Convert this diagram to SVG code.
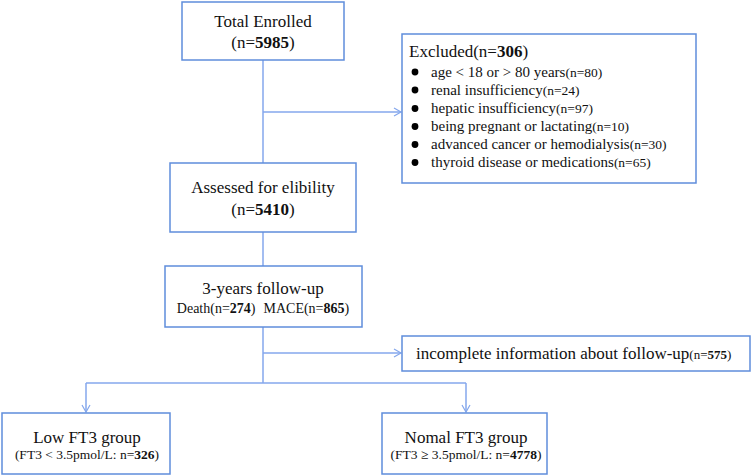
<svg xmlns="http://www.w3.org/2000/svg" width="752" height="476" viewBox="0 0 752 476">
<style>
.box{fill:#fff;stroke:#5f8ddb;stroke-width:1.5}
.ln{fill:none;stroke:#84a7ec;stroke-width:1.5}
text{font-family:"Liberation Serif","Times New Roman",serif;fill:#111}
.t{font-size:17px}
.s{font-size:15px}
.xs{font-size:13.5px}
.m{font-size:14px}
.c{text-anchor:middle}
</style>
<defs>
<marker id="ar" markerWidth="10" markerHeight="10" refX="8" refY="5" orient="auto" markerUnits="userSpaceOnUse">
<path d="M1,1 L8,5 L1,9" fill="none" stroke="#84a7ec" stroke-width="1.2"/>
</marker>
</defs>
<rect width="752" height="476" fill="#fff"/>
<g id="connectors">
<line class="ln" x1="263" y1="60" x2="263" y2="163"/>
<line class="ln" x1="263" y1="112" x2="401" y2="112" marker-end="url(#ar)"/>
<line class="ln" x1="263" y1="232" x2="263" y2="266"/>
<line class="ln" x1="263" y1="327" x2="263" y2="383"/>
<line class="ln" x1="263" y1="353" x2="401" y2="353" marker-end="url(#ar)"/>
<line class="ln" x1="86" y1="383" x2="466" y2="383"/>
<line class="ln" x1="86" y1="383" x2="86" y2="412" marker-end="url(#ar)"/>
<line class="ln" x1="466" y1="383" x2="466" y2="412" marker-end="url(#ar)"/>
</g>
<g id="total">
<rect class="box" x="182" y="2" width="162" height="58"/>
<text class="t c" x="263" y="27">Total Enrolled</text>
<text class="t c" x="263" y="48">(n=<tspan font-weight="bold">5985</tspan>)</text>
</g>
<g id="excluded">
<rect class="box" x="402" y="34" width="294" height="149"/>
<text x="409" y="57" class="t">Excluded(n=<tspan font-weight="bold">306</tspan>)</text>
<g fill="#000">
<circle cx="415" cy="72" r="3.4"/>
<circle cx="415" cy="90" r="3.4"/>
<circle cx="415" cy="108.5" r="3.4"/>
<circle cx="415" cy="126.5" r="3.4"/>
<circle cx="415" cy="144.5" r="3.4"/>
<circle cx="415" cy="162.5" r="3.4"/>
</g>
<text class="s" x="431" y="76.5">age &lt; 18 or &gt; 80 years<tspan class="xs">(n=80)</tspan></text>
<text class="s" x="431" y="94.5">renal insufficiency<tspan class="xs">(n=24)</tspan></text>
<text class="s" x="431" y="113">hepatic insufficiency<tspan class="xs">(n=97)</tspan></text>
<text class="s" x="431" y="131">being pregnant or lactating<tspan class="xs">(n=10)</tspan></text>
<text class="s" x="431" y="149">advanced cancer or hemodialysis<tspan class="xs">(n=30)</tspan></text>
<text class="s" x="431" y="167">thyroid disease or medications<tspan class="xs">(n=65)</tspan></text>
</g>
<g id="assessed">
<rect class="box" x="170" y="163" width="186" height="69"/>
<text class="t c" x="263" y="193">Assessed for elibility</text>
<text class="t c" x="263" y="215">(n=<tspan font-weight="bold">5410</tspan>)</text>
</g>
<g id="followup">
<rect class="box" x="165" y="266" width="197" height="61"/>
<text class="t c" x="263" y="294">3-years follow-up</text>
<text class="m c" x="263" y="313">Death(n=<tspan font-weight="bold">274</tspan>)<tspan dx="8">MACE(n=</tspan><tspan font-weight="bold">865</tspan>)</text>
</g>
<g id="incomplete">
<rect class="box" x="402" y="336" width="348" height="35"/>
<text x="416" y="359" class="t">incomplete information about follow-up<tspan style="font-size:13px">(n=<tspan font-weight="bold">575</tspan>)</tspan></text>
</g>
<g id="low">
<rect class="box" x="2" y="413" width="168" height="61"/>
<text class="t c" x="87" y="443">Low FT3 group</text>
<text class="xs c" x="87" y="459">(FT3 &lt; 3.5pmol/L: n=<tspan font-weight="bold">326</tspan>)</text>
</g>
<g id="normal">
<rect class="box" x="382" y="413" width="165" height="61"/>
<text class="t c" x="466" y="443">Nomal FT3 group</text>
<text class="xs c" x="466" y="459">(FT3 ≥ 3.5pmol/L: n=<tspan font-weight="bold">4778</tspan>)</text>
</g>
</svg>
